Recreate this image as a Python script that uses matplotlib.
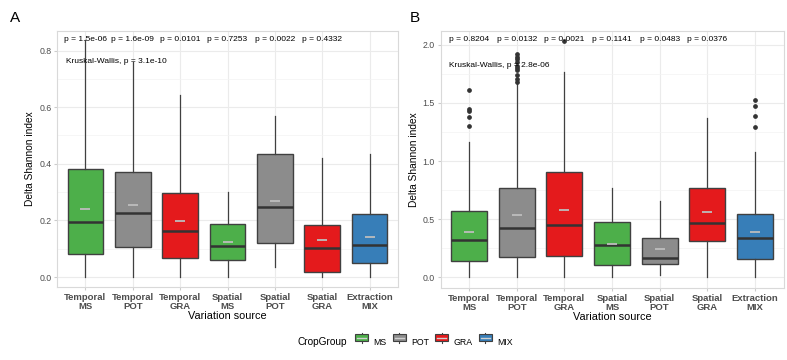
import matplotlib
matplotlib.use("Agg")
import matplotlib.pyplot as plt
from matplotlib.patches import Rectangle, Patch
from matplotlib.lines import Line2D
from matplotlib.legend_handler import HandlerBase
from matplotlib.offsetbox import HPacker
from matplotlib.ticker import MultipleLocator

plt.rcParams['font.family'] = ['Liberation Sans', 'DejaVu Sans']

# categories shared by both panels
categories = ["Temporal\nMS", "Temporal\nPOT", "Temporal\nGRA", "Spatial\nMS",
              "Spatial\nPOT", "Spatial\nGRA", "Extraction\nMIX"]
groups = ["MS", "POT", "GRA", "MS", "POT", "GRA", "MIX"]
palette = {"MS": "#4DAF4A", "POT": "#8C8C8C", "GRA": "#E41A1C", "MIX": "#377EB8"}

# panel A box stats
a_low = [0.0, 0.0, 0.0, 0.0, 0.036, 0.0, 0.0]
a_q1 = [0.081, 0.107, 0.066, 0.059, 0.119, 0.018, 0.049]
a_med = [0.195, 0.226, 0.164, 0.110, 0.246, 0.102, 0.112]
a_q3 = [0.383, 0.370, 0.298, 0.188, 0.436, 0.184, 0.222]
a_high = [0.837, 0.760, 0.643, 0.301, 0.569, 0.419, 0.434]
a_mean = [0.241, 0.253, 0.197, 0.125, 0.270, 0.131, 0.142]
a_out = [[], [], [], [], [], [], []]
a_pvals = ["p = 1.5e-06", "p = 1.6e-09", "p = 0.0101", "p = 0.7253", "p = 0.0022", "p = 0.4332"]
a_kw = "Kruskal-Wallis, p = 3.1e-10"

# panel B box stats
b_low = [0.0, 0.0, 0.0, 0.0, 0.015, 0.0, 0.0]
b_q1 = [0.138, 0.176, 0.184, 0.100, 0.115, 0.310, 0.158]
b_med = [0.322, 0.422, 0.445, 0.273, 0.167, 0.470, 0.336]
b_q3 = [0.568, 0.766, 0.907, 0.477, 0.336, 0.766, 0.546]
b_high = [1.162, 1.678, 1.764, 0.769, 0.654, 1.372, 1.080]
b_mean = [0.385, 0.537, 0.577, 0.281, 0.244, 0.557, 0.390]
b_out = [[1.61, 1.45, 1.43, 1.38, 1.30],
         [1.92, 1.90, 1.88, 1.85, 1.82, 1.80, 1.78, 1.74, 1.71, 1.68],
         [2.03], [], [], [],
         [1.527, 1.475, 1.385, 1.29]]
b_pvals = ["p = 0.8204", "p = 0.0132", "p = 0.0021", "p = 0.1141", "p = 0.0483", "p = 0.0376"]
b_kw = "Kruskal-Wallis, p = 2.8e-06"

legend_groups = ["MS", "POT", "GRA", "MIX"]


def draw_panel(ax, low, q1, med, q3, high, mean, out, pvals, kw, ylim, major, minor, p_y, kw_y):
    pos = list(range(1, len(categories) + 1))
    stats = []
    for i in range(len(categories)):
        stats.append(dict(whislo=low[i], q1=q1[i], med=med[i], q3=q3[i],
                          whishi=high[i], fliers=out[i]))
    bp = ax.bxp(stats, positions=pos, widths=0.75, patch_artist=True, showcaps=False,
                boxprops=dict(edgecolor="#404040", linewidth=1.0),
                whiskerprops=dict(color="#404040", linewidth=0.9),
                medianprops=dict(color="#333333", linewidth=1.8),
                flierprops=dict(marker="o", markersize=2.4, markerfacecolor="#333333",
                                markeredgecolor="#333333"),
                zorder=3)
    for box, g in zip(bp["boxes"], groups):
        box.set_facecolor(palette[g])
    ax.plot(pos, mean, ls="none", marker="_", ms=7, mew=1.3, color="#BDBDBD", zorder=4)

    for i, t in enumerate(pvals):
        ax.text(pos[i], p_y, t, ha="center", va="center", fontsize=6.0, color="black", zorder=5)
    ax.text(0.58, kw_y, kw, ha="left", va="center", fontsize=6.0, color="black", zorder=5)

    ax.set_xlim(0.4, len(categories) + 0.6)
    ax.set_ylim(*ylim)
    ax.set_xticks(pos)
    ax.set_xticklabels(categories, fontsize=6.8, fontweight="bold", color="#4D4D4D",
                       linespacing=1.1)
    ax.yaxis.set_major_locator(MultipleLocator(major))
    ax.yaxis.set_minor_locator(MultipleLocator(minor))
    ax.tick_params(axis="y", labelsize=6.3, labelcolor="#4D4D4D", length=2,
                   color="#CCCCCC", which="major", pad=2)
    ax.tick_params(axis="y", which="minor", length=0)
    ax.tick_params(axis="x", length=2, color="#CCCCCC", pad=2)
    ax.grid(True, which="major", color="#EBEBEB", linewidth=0.8, zorder=0)
    ax.grid(True, which="minor", axis="y", color="#F3F3F3", linewidth=0.5, zorder=0)
    ax.set_axisbelow(True)
    for s in ax.spines.values():
        s.set_color("#D9D9D9")
        s.set_linewidth(0.8)
    ax.set_xlabel("Variation source", fontsize=7.8, labelpad=0)
    ax.set_ylabel("Delta Shannon index", fontsize=7.3, labelpad=3)


class BoxKey(HandlerBase):
    def create_artists(self, legend, orig, xd, yd, w, h, fontsize, trans):
        r = Rectangle((xd, yd + h * 0.15), w, h * 0.7, facecolor=orig.get_facecolor(),
                      edgecolor="#404040", lw=0.8, transform=trans)
        m = Line2D([xd + w * 0.15, xd + w * 0.85], [yd + h / 2] * 2, color="#D0D0D0",
                   lw=1.0, transform=trans)
        w1 = Line2D([xd + w / 2] * 2, [yd, yd + h * 0.15], color="#404040", lw=0.8, transform=trans)
        w2 = Line2D([xd + w / 2] * 2, [yd + h * 0.85, yd + h], color="#404040", lw=0.8, transform=trans)
        return [w1, w2, r, m]


fig = plt.figure(figsize=(7.87, 3.6), dpi=100)
axA = fig.add_axes([57 / 787, 73 / 360, 341 / 787, 256 / 360])
axB = fig.add_axes([440.5 / 787, 72 / 360, 343 / 787, 257 / 360])

draw_panel(axA, a_low, a_q1, a_med, a_q3, a_high, a_mean, a_out, a_pvals, a_kw,
           (-0.035, 0.869), 0.2, 0.1, 0.84, 0.76)
draw_panel(axB, b_low, b_q1, b_med, b_q3, b_high, b_mean, b_out, b_pvals, b_kw,
           (-0.094, 2.12), 0.5, 0.25, 2.045, 1.82)

fig.text(10 / 787, 1 - 18 / 360, "A", fontsize=11, ha="left", va="center")
fig.text(410 / 787, 1 - 18 / 360, "B", fontsize=11, ha="left", va="center")

handles = [Patch(facecolor=palette[g]) for g in legend_groups]
leg = fig.legend(handles, legend_groups, loc="center", bbox_to_anchor=(405 / 787, 1 - 342 / 360),
                 ncol=4, frameon=False, fontsize=6.3, title="CropGroup", title_fontsize=7.3,
                 handler_map={Patch: BoxKey()}, handlelength=1.5, handleheight=1.4,
                 handletextpad=0.6, columnspacing=0.7, borderpad=0)
# put the title to the left of the keys like ggplot
title_box = leg._legend_title_box
handle_box = leg._legend_handle_box
leg._legend_box._children = [HPacker(pad=0, sep=6, children=[title_box, handle_box], align="center")]

fig.savefig("out.png", dpi=100)
